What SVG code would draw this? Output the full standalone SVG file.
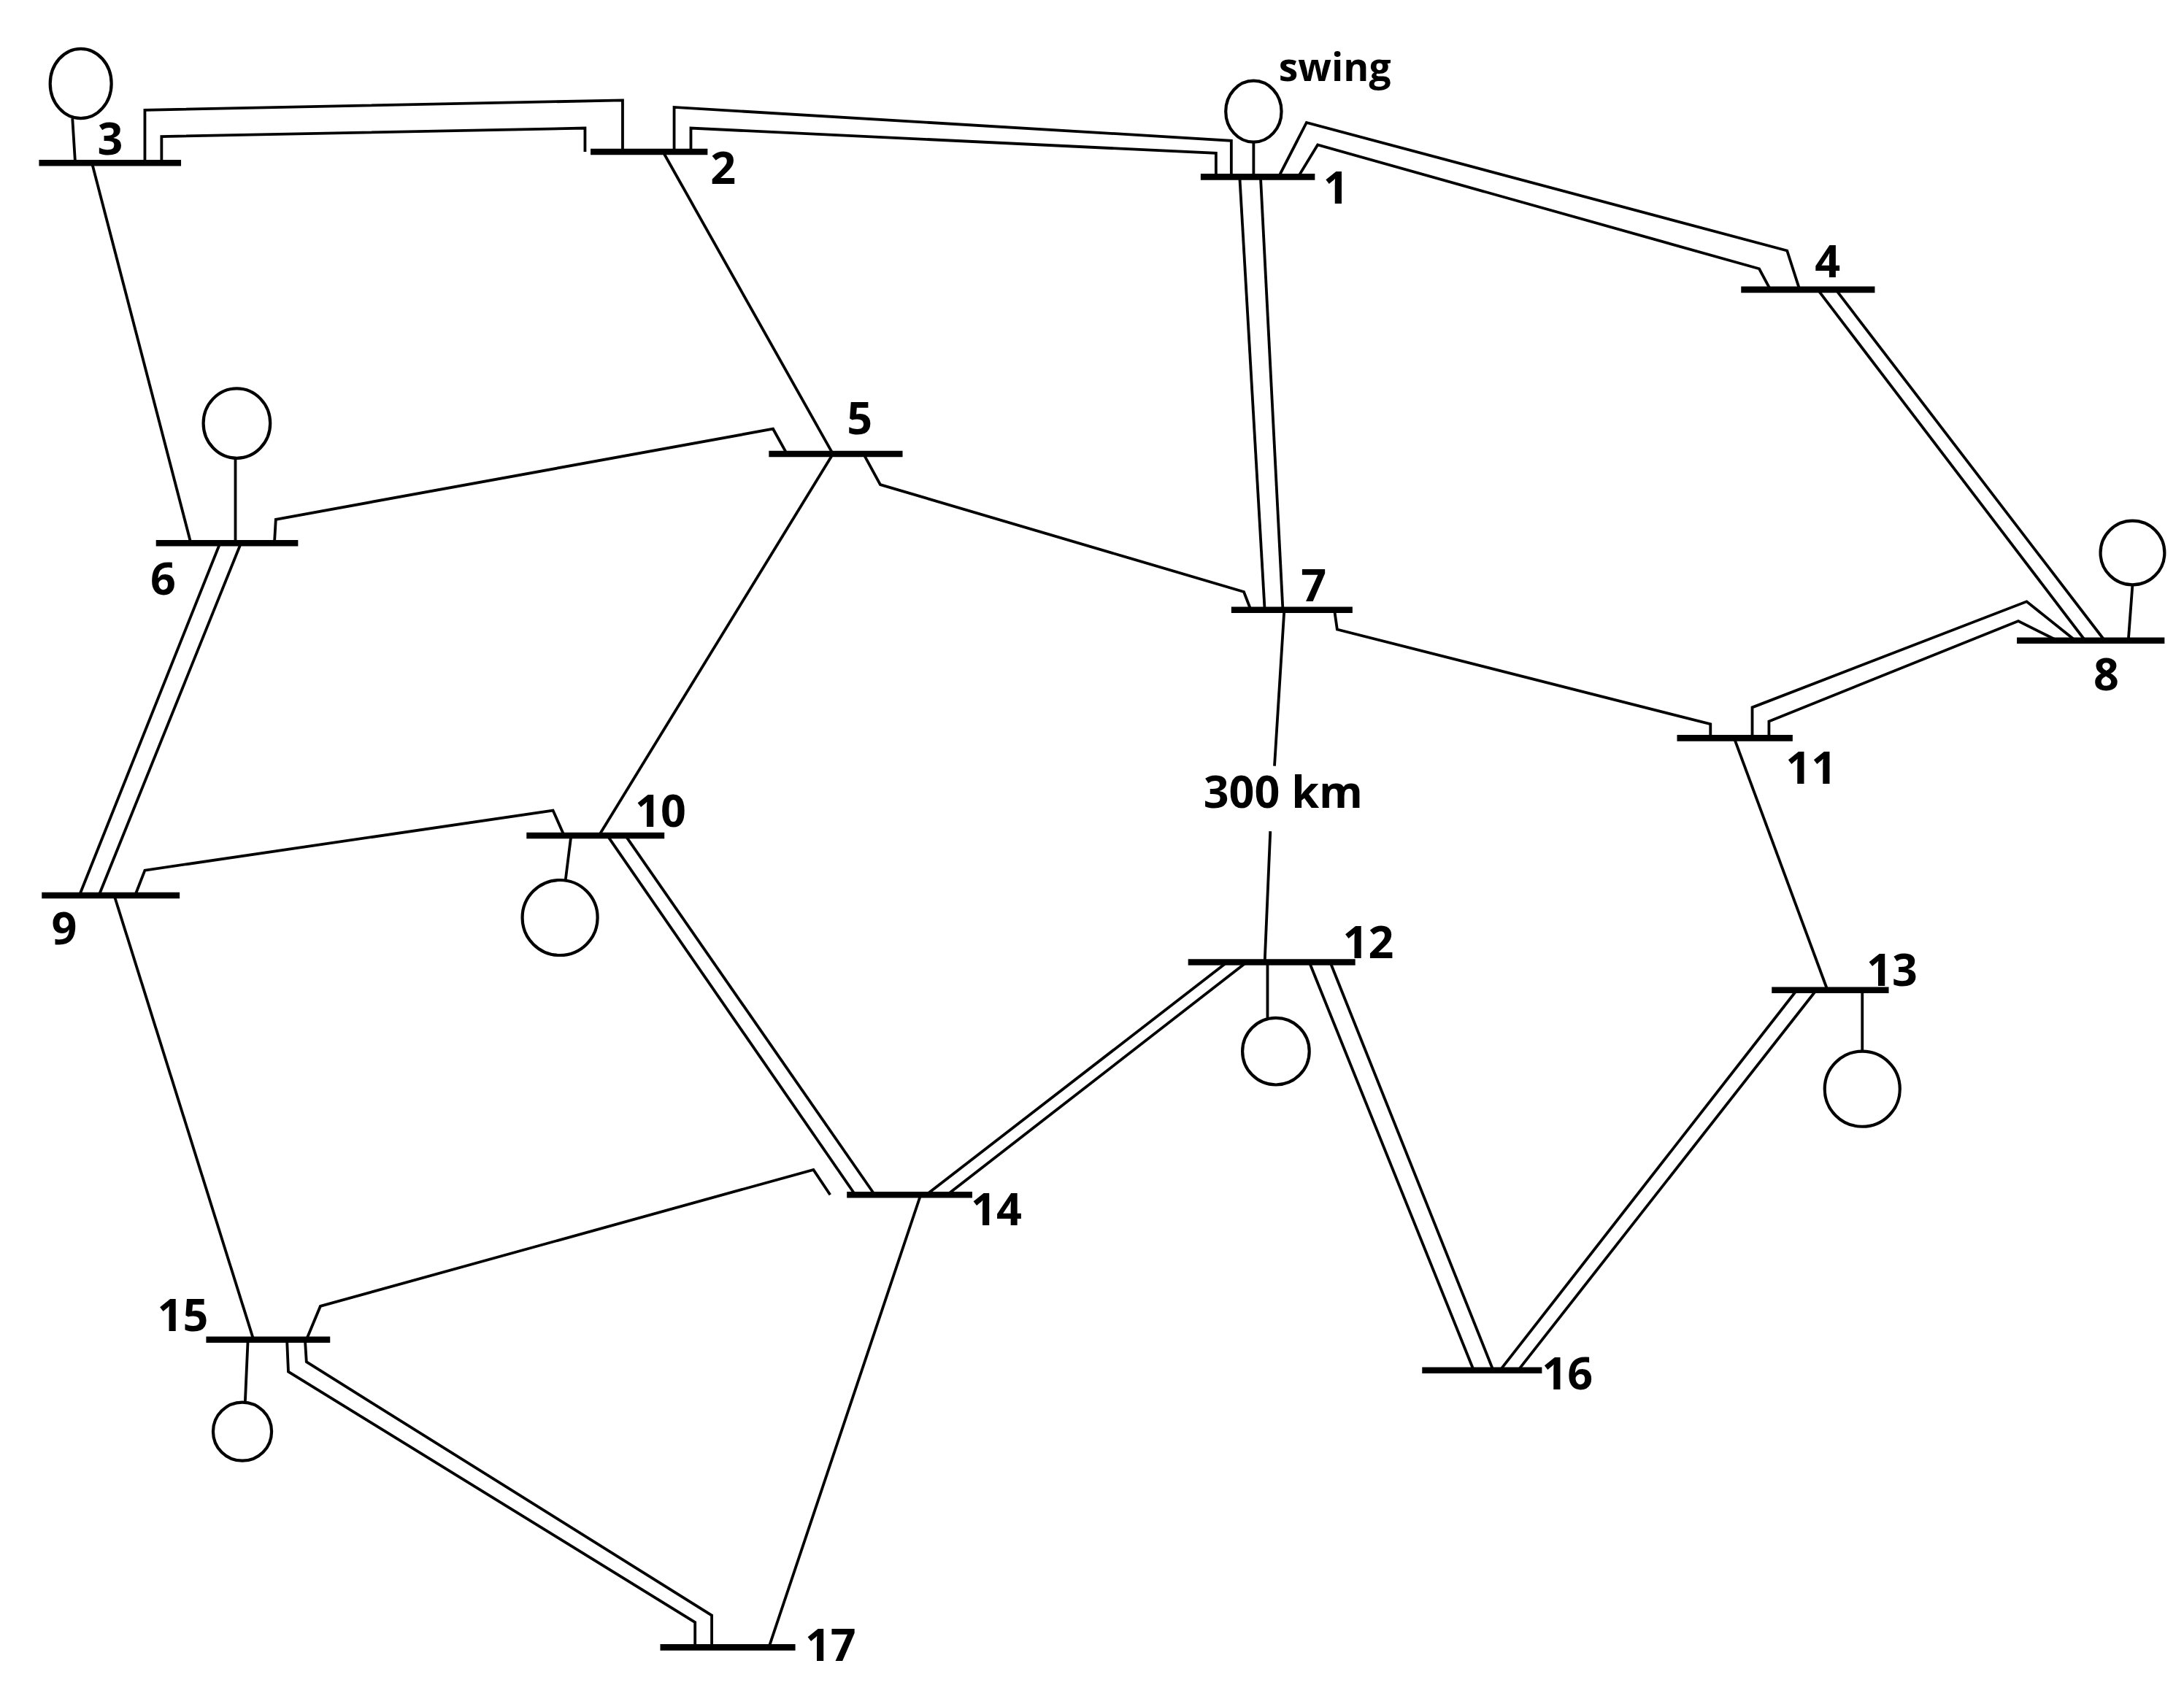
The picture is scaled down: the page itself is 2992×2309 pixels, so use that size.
<svg xmlns="http://www.w3.org/2000/svg" width="2992" height="2309" viewBox="0 0 2992 2309">
<style>
.ln{fill:none;stroke:#000;stroke-width:2;stroke-linejoin:miter}
.bus{stroke:#000;stroke-width:4.5}
.gen{fill:#fff;stroke:#000;stroke-width:2.2}
.lb{font-family:"Open Sans","Liberation Sans",sans-serif;font-weight:bold;font-size:32px;fill:#000}
</style>
<rect width="2992" height="2309" fill="#fff"/>
<g transform="scale(1.9082)">
<g id="connectors">
<polyline class="ln" points="104,117 104,79 447,72 447,109"/>
<polyline class="ln" points="116,117 116,98 420,92 420,109"/>
<polyline class="ln" points="484,109 484,77 884,101 884,127"/>
<polyline class="ln" points="496,109 496,92 873,110 873,127"/>
<polyline class="ln" points="918,127 938,88 1283,180 1292,208"/>
<polyline class="ln" points="932,127 946,104 1263,193 1271,208"/>
<polyline class="ln" points="890,127 908,438"/>
<polyline class="ln" points="905,127 921,438"/>
<polyline class="ln" points="1305,208 1497,460"/>
<polyline class="ln" points="1318,208 1511,460"/>
<polyline class="ln" points="1490,460 1455,432 1258,508 1258,530"/>
<polyline class="ln" points="1477,460 1449,446 1270,518 1270,530"/>
<polyline class="ln" points="958,438 960,452 1228,520 1228,530"/>
<polyline class="ln" points="620,326 632,348 893,425 898,438"/>
<polyline class="ln" points="476,109 598,326"/>
<polyline class="ln" points="66,117 137,390"/>
<polyline class="ln" points="197,390 198,373 555,308 565,326"/>
<polyline class="ln" points="598,326 430,600"/>
<polyline class="ln" points="158,390 57,643"/>
<polyline class="ln" points="173,390 71,643"/>
<polyline class="ln" points="97,643 104,625 397,582 405,600"/>
<polyline class="ln" points="82,643 182,962"/>
<polyline class="ln" points="436,600 614,858"/>
<polyline class="ln" points="449,600 628,858"/>
<polyline class="ln" points="665,858 881,691"/>
<polyline class="ln" points="680,858 895,691"/>
<polyline class="ln" points="922,438 915,550"/>
<polyline class="ln" points="912,597 908,691"/>
<polyline class="ln" points="940,691 1058,984"/>
<polyline class="ln" points="955,691 1072,984"/>
<polyline class="ln" points="1290,711 1077,984"/>
<polyline class="ln" points="1304,711 1090,984"/>
<polyline class="ln" points="1245,530 1312,711"/>
<polyline class="ln" points="661,858 552,1183"/>
<polyline class="ln" points="220,962 230,938 584,840 596,858"/>
<polyline class="ln" points="206,962 207,985 499,1165 499,1183"/>
<polyline class="ln" points="219,962 220,978 511,1160 511,1183"/>
</g>
<g id="bus3"><line class="bus" x1="28" y1="117" x2="130" y2="117"/><line class="ln" x1="52" y1="85" x2="54" y2="117"/><ellipse class="gen" cx="58" cy="60" rx="22" ry="25"/><text class="lb" x="70" y="111">3</text></g>
<g id="bus2"><line class="bus" x1="424" y1="109" x2="508" y2="109"/><text class="lb" x="510" y="132">2</text></g>
<g id="bus1"><line class="bus" x1="862" y1="127" x2="944" y2="127"/><line class="ln" x1="900" y1="100" x2="900" y2="127"/><ellipse class="gen" cx="900" cy="80" rx="20" ry="22"/><text class="lb" x="950" y="146">1</text><text class="lb" x="918" y="58" style="font-size:28px">swing</text></g>
<g id="bus4"><line class="bus" x1="1250" y1="208" x2="1346" y2="208"/><text class="lb" x="1303" y="199">4</text></g>
<g id="bus5"><line class="bus" x1="552" y1="326" x2="648" y2="326"/><text class="lb" x="608" y="312">5</text></g>
<g id="bus6"><line class="bus" x1="112" y1="390" x2="214" y2="390"/><line class="ln" x1="169" y1="328" x2="169" y2="390"/><ellipse class="gen" cx="170" cy="304" rx="24" ry="25"/><text class="lb" x="108" y="427">6</text></g>
<g id="bus7"><line class="bus" x1="884" y1="438" x2="971" y2="438"/><text class="lb" x="934" y="432">7</text></g>
<g id="bus8"><line class="bus" x1="1448" y1="460" x2="1554" y2="460"/><line class="ln" x1="1531" y1="420" x2="1528" y2="460"/><ellipse class="gen" cx="1531" cy="397" rx="23" ry="23"/><text class="lb" x="1503" y="496">8</text></g>
<g id="bus11"><line class="bus" x1="1204" y1="530" x2="1287" y2="530"/><text class="lb" x="1282" y="563">11</text></g>
<g id="bus9"><line class="bus" x1="30" y1="643" x2="129" y2="643"/><text class="lb" x="37" y="678">9</text></g>
<g id="bus10"><line class="bus" x1="378" y1="600" x2="477" y2="600"/><line class="ln" x1="410" y1="600" x2="406" y2="632"/><ellipse class="gen" cx="402" cy="659" rx="27" ry="27"/><text class="lb" x="456" y="594">10</text></g>
<g id="bus12"><line class="bus" x1="853" y1="691" x2="973" y2="691"/><line class="ln" x1="910" y1="691" x2="910" y2="731"/><ellipse class="gen" cx="916" cy="755" rx="24" ry="24"/><text class="lb" x="964" y="688">12</text></g>
<g id="bus13"><line class="bus" x1="1272" y1="711" x2="1356" y2="711"/><line class="ln" x1="1337" y1="711" x2="1337" y2="755"/><ellipse class="gen" cx="1337" cy="782" rx="27" ry="27"/><text class="lb" x="1340" y="708">13</text></g>
<g id="bus14"><line class="bus" x1="608" y1="858" x2="698" y2="858"/><text class="lb" x="697" y="880">14</text></g>
<g id="bus15"><line class="bus" x1="148" y1="962" x2="237" y2="962"/><line class="ln" x1="178" y1="962" x2="176" y2="1007"/><ellipse class="gen" cx="174" cy="1028" rx="21" ry="21"/><text class="lb" x="113" y="956">15</text></g>
<g id="bus16"><line class="bus" x1="1021" y1="984" x2="1107" y2="984"/><text class="lb" x="1107" y="998">16</text></g>
<g id="bus17"><line class="bus" x1="474" y1="1183" x2="571" y2="1183"/><text class="lb" x="578" y="1193">17</text></g>
<text class="lb" x="864" y="580">300 km</text>
</g>
</svg>
